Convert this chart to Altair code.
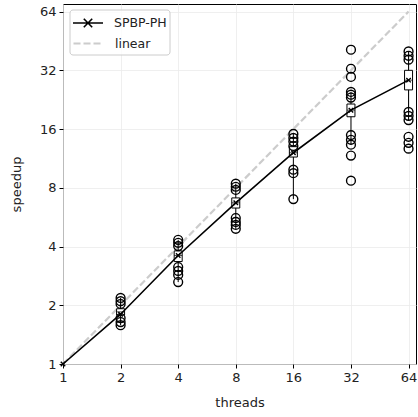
import altair as alt
import pandas as pd

# ---- data ----
threads = [1, 2, 4, 8, 16, 32, 64]
spbp_speedup = [1.0, 1.8, 3.6, 6.7, 12.1, 20.0, 28.5]
linear_speedup = [1, 2, 4, 8, 16, 32, 64]

run_threads = [2] * 6 + [4] * 7 + [8] * 7 + [16] * 7 + [32] * 11 + [64] * 9
run_speedup = [
    2.18, 2.10, 2.03, 1.72, 1.64, 1.58,
    4.33, 4.18, 4.02, 3.14, 3.00, 2.86, 2.63,
    8.40, 8.10, 7.80, 5.60, 5.35, 5.16, 4.93,
    15.1, 14.4, 13.8, 13.1, 9.9, 9.5, 7.0,
    40.8, 32.6, 29.6, 24.8, 24.0, 23.2, 14.9, 14.1, 13.3, 11.7, 8.7,
    40.0, 38.0, 36.3, 19.6, 18.7, 17.8, 14.6, 13.6, 12.7,
]

box_threads = [2, 4, 8, 16, 32, 64]
box_q1 = [1.78, 3.35, 6.3, 11.5, 18.5, 25.4]
box_med = [1.85, 3.6, 6.7, 12.1, 20.0, 28.5]
box_q3 = [1.92, 3.8, 7.1, 13.0, 21.5, 32.0]
whisk_lo = [1.58, 2.63, 4.93, 7.0, 13.3, 17.8]
whisk_hi = [2.18, 4.33, 8.4, 15.1, 24.8, 40.0]

spbp_df = pd.DataFrame({"threads": threads, "speedup": spbp_speedup, "series": "SPBP-PH"})
linear_df = pd.DataFrame({"threads": threads, "speedup": linear_speedup, "ref": "linear"})
runs_df = pd.DataFrame({"threads": run_threads, "speedup": run_speedup})
box_df = pd.DataFrame({"threads": box_threads, "q1": box_q1, "med": box_med, "q3": box_q3,
                       "lo": whisk_lo, "hi": whisk_hi})

FONT = "DejaVu Sans"
xscale = alt.Scale(type="log", base=2, domain=[1, 70], nice=False, padding=0)
yscale = alt.Scale(type="log", base=2, domain=[1, 70], nice=False, padding=0)

X = alt.X("threads:Q", scale=xscale,
          axis=alt.Axis(values=threads, format="d", title="threads", titlePadding=12,
                        labelFlush=False))
Y = alt.Y("speedup:Q", scale=yscale,
          axis=alt.Axis(values=linear_speedup, format="d", title="speedup", titlePadding=16,
                        labelFlush=False))

xpath = "M-1,0H1M-0.28,-0.28L0.28,0.28M-0.28,0.28L0.28,-0.28"
marker_path = "M-1,-1L1,1M-1,1L1,-1"

linear = alt.Chart(linear_df).mark_line(color="#cccccc", strokeWidth=2.2).encode(
    x=X, y=Y,
    strokeDash=alt.StrokeDash("ref:N", scale=alt.Scale(domain=["linear"], range=[[7, 3]]),
                              legend=alt.Legend(title=None, orient="none", legendX=9, legendY=23,
                                                symbolType="stroke", symbolSize=900,
                                                symbolStrokeWidth=2.2, symbolStrokeColor="#cccccc",
                                                labelOffset=10, padding=0)),
)

whiskers = alt.Chart(box_df).mark_rule(color="black", strokeWidth=1).encode(
    x=alt.X("threads:Q", scale=xscale), y=alt.Y("lo:Q", scale=yscale), y2="hi:Q")
boxes = alt.Chart(box_df).mark_bar(size=8, fill="white", stroke="black", strokeWidth=1).encode(
    x=alt.X("threads:Q", scale=xscale), y=alt.Y("q1:Q", scale=yscale), y2="q3:Q")
medians = alt.Chart(box_df).mark_tick(color="black", thickness=1, size=8, orient="horizontal").encode(
    x=alt.X("threads:Q", scale=xscale), y=alt.Y("med:Q", scale=yscale))

points = alt.Chart(runs_df).mark_point(shape="circle", filled=False, size=78, strokeWidth=1.4,
                                       color="black", opacity=1).encode(x=X, y=Y)

spbp_line = alt.Chart(spbp_df).mark_line(strokeWidth=1.6).encode(
    x=X, y=Y,
    color=alt.Color("series:N", scale=alt.Scale(domain=["SPBP-PH"], range=["black"]),
                    legend=alt.Legend(title=None, orient="none", legendX=9, legendY=3,
                                      symbolType=xpath, symbolSize=900, symbolStrokeWidth=1.6,
                                      labelOffset=10, padding=0)),
)
spbp_marks = alt.Chart(spbp_df).mark_point(shape=marker_path, filled=False, size=20, strokeWidth=1.4,
                                           color="black", opacity=1).encode(x=X, y=Y)

frame = alt.Chart(pd.DataFrame({"a": [0]})).mark_rect(
    fill="white", fillOpacity=0.8, stroke="#cccccc", strokeWidth=1, cornerRadius=3
).encode(x=alt.value(7), x2=alt.value(107), y=alt.value(6), y2=alt.value(51))

chart = alt.layer(linear, whiskers, boxes, medians, points, spbp_line, spbp_marks, frame).properties(
    width=353, height=360,
    autosize=alt.AutoSizeParams(type="none"),
    padding={"left": 63, "top": 4, "right": 2, "bottom": 53},
).configure_view(stroke="black", strokeWidth=1).configure_scale(
    continuousPadding=0
).configure_axis(
    domain=False, grid=True, gridColor="#ebebeb", gridWidth=0.8,
    tickColor="black", tickSize=4, tickWidth=1, labelPadding=3,
    labelFont=FONT, labelFontSize=13, labelColor="#222",
    titleFont=FONT, titleFontSize=13, titleFontWeight="normal", titleColor="#222",
).configure_legend(labelFont=FONT, labelFontSize=12.5, labelColor="#222")

chart.save("out.html", embed_options={"renderer": "svg", "actions": False})
